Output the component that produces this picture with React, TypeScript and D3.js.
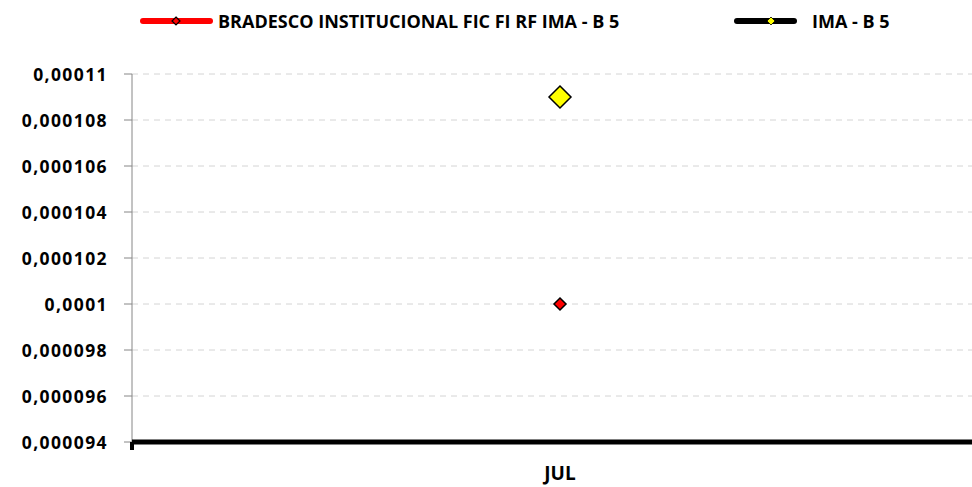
import * as d3 from 'd3';
import React from 'react';

const categories = ['JUL'];
const fundValues = [0.0001];
const indexValues = [0.000109];
const yTicks = [0.000094, 0.000096, 0.000098, 0.0001, 0.000102, 0.000104, 0.000106, 0.000108, 0.00011];
const yTickLabels = ['0,000094', '0,000096', '0,000098', '0,0001', '0,000102', '0,000104', '0,000106', '0,000108', '0,00011'];
const seriesNames = ['BRADESCO INSTITUCIONAL FIC FI RF IMA - B 5', 'IMA - B 5'];

const width = 972;
const height = 487;
const plotLeft = 132;
const plotRight = 988;
const plotTop = 74;
const plotBottom = 442;
const font = "'Open Sans', 'Liberation Sans', sans-serif";

const diamond = (cx: number, cy: number, r: number) =>
    `M${cx},${cy - r}L${cx + r},${cy}L${cx},${cy + r}L${cx - r},${cy}Z`;

const App: React.FC = () => {
    const x = d3.scaleBand<string>().domain(categories).range([plotLeft, plotRight]);
    const y = d3.scaleLinear().domain([0.000094, 0.00011]).range([plotBottom, plotTop]);

    return (
        <svg width={width} height={height} style={{ position: 'absolute', left: 0, top: 0 }}>
            <rect width={width} height={height} fill="#fff" />

            {/* gridlines + y labels */}
            {yTicks.map((t, i) => (
                <g key={i}>
                    {i > 0 && (
                        <line x1={plotLeft} x2={plotRight} y1={y(t)} y2={y(t)}
                            stroke="#d4d4d4" strokeWidth={1} strokeDasharray="6,5" />
                    )}
                    <line x1={plotLeft - 8} x2={plotLeft} y1={y(t)} y2={y(t)} stroke="#868686" strokeWidth={1} />
                    <text x={108} y={y(t)} textAnchor="end" dominantBaseline="central"
                        fontFamily={font} fontWeight="bold" fontSize={17.5} letterSpacing={1.4} fill="#000">
                        {yTickLabels[i]}
                    </text>
                </g>
            ))}

            {/* y axis */}
            <line x1={plotLeft} x2={plotLeft} y1={plotTop} y2={plotBottom} stroke="#868686" strokeWidth={1} />

            {/* x axis */}
            <line x1={plotLeft} x2={plotRight} y1={plotBottom} y2={plotBottom} stroke="#000" strokeWidth={5} />
            <line x1={plotLeft} x2={plotLeft} y1={plotBottom} y2={plotBottom + 8} stroke="#000" strokeWidth={4} />

            {categories.map((c) => (
                <text key={c} x={(x(c) ?? 0) + x.bandwidth() / 2} y={473} textAnchor="middle" dominantBaseline="central"
                    fontFamily={font} fontWeight="bold" fontSize={19} fill="#000">
                    {c}
                </text>
            ))}

            {/* series markers */}
            {categories.map((c, i) => {
                const cx = (x(c) ?? 0) + x.bandwidth() / 2;
                return (
                    <g key={c}>
                        <path d={diamond(cx, y(fundValues[i]), 6)} fill="#ff0000" stroke="#000" strokeWidth={1.5} />
                        <path d={diamond(cx, y(indexValues[i]), 11)} fill="#ffff00" stroke="#000" strokeWidth={1.5} />
                    </g>
                );
            })}

            {/* legend */}
            <line x1={143} x2={210} y1={21} y2={21} stroke="#ff0000" strokeWidth={6} strokeLinecap="round" />
            <path d={diamond(176, 21, 4)} fill="#ff0000" stroke="#000" strokeWidth={1.2} />
            <text x={218} y={21} dominantBaseline="central" fontFamily={font} fontWeight="bold" fontSize={18} fill="#000">
                {seriesNames[0]}
            </text>

            <line x1={737} x2={794} y1={21} y2={21} stroke="#000" strokeWidth={6} strokeLinecap="round" />
            <path d={diamond(771, 21, 4)} fill="#ffff00" stroke="#000" strokeWidth={0.8} />
            <text x={812} y={21} dominantBaseline="central" fontFamily={font} fontWeight="bold" fontSize={18} fill="#000">
                {seriesNames[1]}
            </text>
        </svg>
    );
};

export default App;
